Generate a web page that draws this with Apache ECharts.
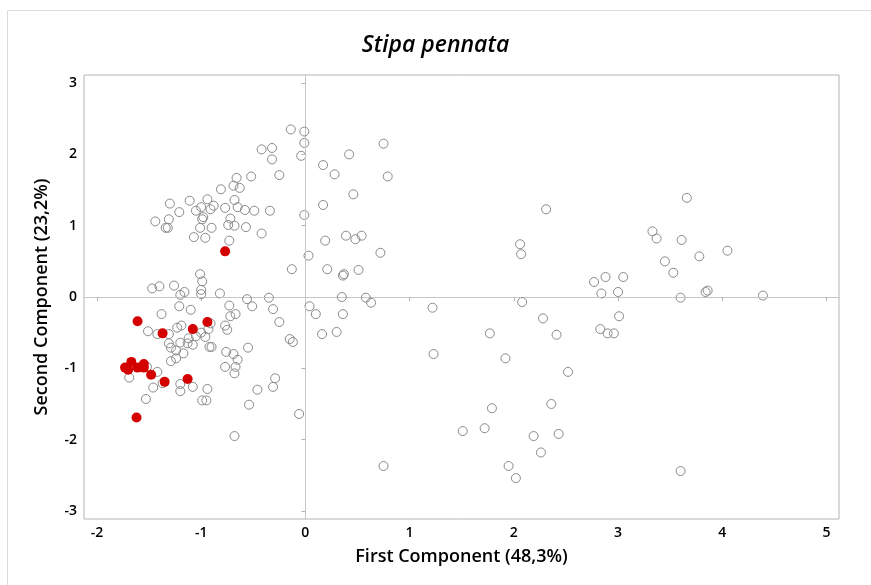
<!DOCTYPE html>
<html>
<head>
<meta charset="utf-8">
<script src="https://cdn.jsdelivr.net/npm/echarts@6/dist/echarts.min.js"></script>
<style>html,body{margin:0;padding:0;background:#fff}#c{width:871px;height:585px}</style>
</head>
<body>
<div id="c"></div>
<script>
const titleText = 'Stipa pennata';
const xAxisName = 'First Component (48,3%)';
const yAxisName = 'Second Component (23,2%)';
const xTicks = [-2, -1, 0, 1, 2, 3, 4, 5];
const yTicks = [-3, -2, -1, 0, 1, 2, 3];

// Other populations (hollow circles)
const otherPC1 = [
 -0.14,-0.01,-0.01,-0.42,-0.32,-0.32,-0.04,-0.25,-0.52,-0.66,-0.69,-0.63,-0.81,-1.30,-1.11,-0.94,-0.68,-1.21,-1.05,-1.00,
 -0.91,-0.88,-0.77,-0.65,-0.58,-0.49,-0.34,-0.01,-1.44,-1.31,-0.98,-0.99,-0.72,-1.34,-1.32,-1.01,-0.90,-0.74,-0.68,-0.57,
 -0.42,-1.07,-0.96,-0.73,0.03,-0.13,-1.01,-0.99,-1.47,-1.40,-1.26,-1.16,-1.20,-1.00,-1.00,-0.82,-0.56,-0.35,
 0.75,0.42,0.17,0.28,0.79,0.46,0.17,0.19,0.39,0.48,0.54,0.72,0.21,0.36,0.37,0.51,0.35,0.58,
 0.63,0.04,0.10,0.36,0.16,0.30,-0.06,0.75,
 2.31,2.06,2.07,2.77,2.88,3.05,2.84,3.00,1.22,2.08,2.28,3.01,2.83,2.90,2.96,1.77,2.41,1.23,1.92,2.52,
 2.36,1.79,1.51,1.72,2.19,2.43,2.26,1.95,2.02,
 3.66,3.33,3.37,3.61,4.05,3.78,3.45,3.53,3.60,3.84,3.86,4.39,3.60,
 -1.21,-1.10,-1.38,-0.73,-0.51,-0.31,-0.72,-0.67,-0.25,-1.51,-1.42,-1.31,-1.23,-1.19,-1.00,-1.05,-0.91,-0.77,-0.75,-0.93,
 -0.96,-1.31,-1.29,-1.20,-1.12,-1.13,-1.08,-1.24,-1.17,-1.29,-1.24,-0.92,-0.90,-0.76,-0.69,-0.65,-0.67,-0.77,-0.68,-0.55,
 -0.15,-0.12,-1.69,-1.52,-1.42,-1.46,-1.53,-1.37,-1.20,-1.20,-1.08,-0.94,-0.99,-0.95,-0.46,-0.29,-0.31,-0.54,-0.68
];
const otherPC2 = [
 2.35,2.32,2.16,2.07,2.09,1.93,1.98,1.71,1.69,1.67,1.56,1.53,1.51,1.31,1.35,1.37,1.36,1.19,1.21,1.26,
 1.23,1.28,1.25,1.26,1.22,1.21,1.21,1.15,1.06,1.09,1.12,1.09,1.10,0.97,0.97,0.97,0.97,1.01,1.00,0.98,
 0.89,0.84,0.83,0.79,0.58,0.39,0.32,0.22,0.12,0.15,0.16,0.07,0.03,0.10,0.04,0.05,-0.03,-0.01,
 2.15,2.00,1.85,1.72,1.69,1.44,1.29,0.79,0.86,0.81,0.86,0.62,0.39,0.30,0.32,0.38,0.00,-0.01,
 -0.08,-0.13,-0.24,-0.24,-0.52,-0.49,-1.64,-2.37,
 1.23,0.74,0.60,0.21,0.28,0.28,0.05,0.07,-0.15,-0.07,-0.30,-0.27,-0.45,-0.51,-0.51,-0.51,-0.53,-0.80,-0.86,-1.05,
 -1.50,-1.56,-1.88,-1.84,-1.95,-1.92,-2.18,-2.37,-2.54,
 1.39,0.92,0.82,0.80,0.65,0.57,0.50,0.34,-0.01,0.07,0.09,0.02,-2.44,
 -0.13,-0.18,-0.24,-0.12,-0.13,-0.17,-0.27,-0.24,-0.35,-0.48,-0.52,-0.52,-0.43,-0.40,-0.50,-0.55,-0.37,-0.40,-0.46,-0.45,
 -0.56,-0.65,-0.71,-0.64,-0.58,-0.65,-0.67,-0.75,-0.79,-0.90,-0.86,-0.70,-0.70,-0.77,-0.80,-0.88,-0.98,-0.98,-1.07,-0.71,
 -0.59,-0.63,-1.13,-0.98,-1.05,-1.27,-1.43,-1.21,-1.22,-1.32,-1.26,-1.29,-1.45,-1.45,-1.30,-1.14,-1.26,-1.51,-1.95
];

// Highlighted population (red filled circles)
const stipaPC1 = [-0.77,-1.61,-1.37,-1.08,-0.94,-1.67,-1.73,-1.70,-1.61,-1.55,-1.55,-1.48,-1.35,-1.13,-1.62];
const stipaPC2 = [0.64,-0.34,-0.51,-0.45,-0.35,-0.91,-0.99,-1.02,-0.99,-0.94,-0.99,-1.09,-1.19,-1.15,-1.69];

const otherData = otherPC1.map((v, i) => [v, otherPC2[i]]);
const stipaData = stipaPC1.map((v, i) => [v, stipaPC2[i]]);

const FONT = '"Open Sans", "Noto Sans", sans-serif';
const chart = echarts.init(document.getElementById('c'));
chart.setOption({
  animation: false,
  backgroundColor: '#fff',
  graphic: [{
    type: 'rect', left: 5, top: 8, silent: true, z: -10,
    shape: { width: 900, height: 600 },
    style: { fill: 'none', stroke: '#dcdcdc', lineWidth: 1 }
  }],
  title: {
    text: titleText, left: 'center', top: 29,
    textStyle: { fontFamily: FONT, fontStyle: 'italic', fontWeight: 600, fontSize: 23, color: '#000' }
  },
  grid: { left: 84, right: 32, top: 75, bottom: 66, show: true, borderColor: '#b4b4b4', borderWidth: 1, backgroundColor: 'transparent' },
  xAxis: {
    type: 'value', min: -2.124, max: 5.12,
    name: xAxisName, nameLocation: 'middle', nameGap: 29,
    nameTextStyle: { fontFamily: FONT, fontSize: 18, fontWeight: 600, color: '#000' },
    axisLine: { show: true, lineStyle: { color: '#c4c4c4' } },
    axisTick: { show: true, length: 4, customValues: xTicks, lineStyle: { color: '#b4b4b4' } },
    axisLabel: { customValues: xTicks, fontFamily: FONT, fontSize: 14, fontWeight: 600, color: '#000', margin: 7 },
    splitLine: { show: false }
  },
  yAxis: {
    type: 'value', min: -3.113, max: 3.113,
    name: yAxisName, nameLocation: 'middle', nameGap: 33, nameRotate: 90,
    nameTextStyle: { fontFamily: FONT, fontSize: 18, fontWeight: 600, color: '#000' },
    axisLine: { show: true, lineStyle: { color: '#c4c4c4' } },
    axisTick: { show: true, length: 4, customValues: yTicks, lineStyle: { color: '#b4b4b4' } },
    axisLabel: { customValues: yTicks, fontFamily: FONT, fontSize: 14, fontWeight: 600, color: '#000', margin: 7 },
    splitLine: { show: false }
  },
  series: [
    {
      type: 'scatter', data: otherData, symbol: 'circle', symbolSize: 9, z: 2,
      itemStyle: { color: 'rgba(255,255,255,0)', borderColor: '#8a8a8a', borderWidth: 1, opacity: 1 },
      markLine: {
        silent: true, symbol: ['none', 'none'], label: { show: false },
        lineStyle: { color: '#c8c8c8', type: [5, 3], width: 1 },
        data: [{ xAxis: 0 }, { yAxis: 0 }]
      }
    },
    {
      type: 'scatter', data: stipaData, symbol: 'circle', symbolSize: 10, z: 3,
      itemStyle: { color: '#d40000', borderWidth: 0, opacity: 1 }
    }
  ]
});
</script>
</body>
</html>
